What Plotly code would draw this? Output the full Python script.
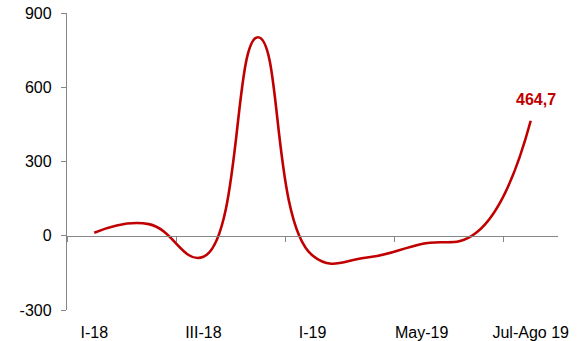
import plotly.graph_objects as go

categories = ["I-18", "II-18", "III-18", "IV-18", "I-19", "Abr-19", "May-19", "Jun-19", "Jul-Ago 19"]
values = [12, 47, -85, 802, -80, -88, -33, 12, 464.7]
y_ticks = [-300, 0, 300, 600, 900]
y_tick_text = ["-300", "0", "300", "600", "900"]
last_label = "464,7"

idx = list(range(len(categories)))
shown = idx[::2]
boundaries = [-0.5] + [i + 1.5 for i in shown[:-1]]

RED = "#C00000"
GREY = "#868686"
FONT = "Liberation Sans, Arial, sans-serif"

fig = go.Figure()
fig.add_trace(go.Scatter(
    x=idx, y=values, mode="lines",
    line=dict(color=RED, width=2.6, shape="spline", smoothing=1.3),
    xaxis="x", yaxis="y", showlegend=False, hoverinfo="skip",
))
fig.add_trace(go.Scatter(
    x=idx, y=[None] * len(idx), mode="lines",
    xaxis="x2", yaxis="y", showlegend=False, hoverinfo="skip",
))

fig.add_annotation(
    x=idx[-1], y=values[-1], xref="x", yref="y",
    text="<b>" + last_label + "</b>", showarrow=False,
    font=dict(color=RED, size=16, family=FONT),
    yshift=21, xshift=5,
)

fig.update_layout(
    width=582, height=341,
    margin=dict(l=67, r=24, t=13, b=31, autoexpand=False),
    paper_bgcolor="white", plot_bgcolor="white",
    font=dict(family=FONT, size=16, color="#000000"),
    xaxis=dict(
        range=[-0.5, len(idx) - 0.5],
        tickmode="array", tickvals=shown,
        ticktext=[categories[i] for i in shown],
        showline=False, showgrid=False, zeroline=False,
        ticks="", ticklabelstandoff=11, automargin=False,
        ticklabeloverflow="allow",
        tickfont=dict(size=16),
    ),
    xaxis2=dict(
        overlaying="x", matches="x", anchor="free", position=0.25,
        side="bottom", automargin=False,
        showline=True, linecolor=GREY, linewidth=1.3,
        ticks="outside", ticklen=5, tickcolor=GREY, tickwidth=1.3,
        tickmode="array", tickvals=boundaries,
        showticklabels=False, showgrid=False, zeroline=False,
    ),
    yaxis=dict(
        range=[y_ticks[0], y_ticks[-1]],
        tickmode="array", tickvals=y_ticks, ticktext=y_tick_text,
        showline=True, linecolor=GREY, linewidth=1.3,
        ticks="outside", ticklen=5, tickcolor=GREY, tickwidth=1.3,
        showgrid=False, zeroline=False, automargin=False,
        ticklabeloverflow="allow",
        ticklabelstandoff=6,
        tickfont=dict(size=16),
    ),
)

# remove the default 8px body margin of the page so the figure fills the window
fig.write_html(
    "out.html",
    config={"displayModeBar": False},
    post_script="document.body.style.margin='0';",
)
